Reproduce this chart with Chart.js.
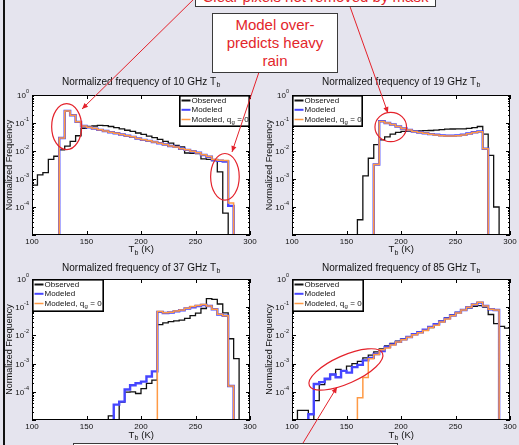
<!DOCTYPE html>
<html>
<head>
<meta charset="utf-8">
<script src="https://cdn.jsdelivr.net/npm/chart.js@4.4.1/dist/chart.umd.min.js"></script>
<style>
html,body{margin:0;padding:0;background:#e5e4ee;overflow:hidden}
#wrap{position:relative;width:519px;height:445px;overflow:hidden;background:#e5e4ee}
canvas.ch{position:absolute}
.box{position:absolute;background:#fff;border:1px solid #3a3a3a;color:#e3262b;font-family:"Liberation Sans",Arial,sans-serif;font-size:15px;line-height:18px;text-align:center;box-sizing:border-box}
</style>
</head>
<body>
<div id="wrap">
<div style="position:absolute;left:3px;top:0;width:2px;height:445px;background:#111"></div>
<canvas id="c10" class="ch" width="260" height="188" style="left:0;top:70px"></canvas>
<canvas id="c19" class="ch" width="259" height="188" style="left:260px;top:70px"></canvas>
<canvas id="c37" class="ch" width="260" height="190" style="left:0;top:255px"></canvas>
<canvas id="c85" class="ch" width="259" height="190" style="left:260px;top:255px"></canvas>
<canvas id="ov" width="519" height="445" style="position:absolute;left:0;top:0"></canvas>
<div class="box" style="left:195px;top:-22px;width:241px;height:29px;padding-top:9px;">Clear pixels not removed by mask</div>
<div class="box" style="left:212px;top:13px;width:126px;height:60px;padding-top:2px;">Model over-<br>predicts heavy<br>rain</div>
<div class="box" style="left:73px;top:443px;width:325px;height:20px;"></div>
</div>
<script>
// ---------------- DATA ----------------
const BIN_W = 5;
const binLeft = [100,105,110,115,120,125,130,135,140,145,150,155,160,165,170,175,180,185,190,195,
                 200,205,210,215,220,225,230,235,240,245,250,255,260,265,270,275,280,285,290,295];
const xTicks = [100,150,200,250,300];
const yDecades = [0,-1,-2,-3,-4];
const channels = ['10','19','37','85'];
const seriesLabels = ['Observed','Modeled','Modeled, q'];

// 10 GHz
const obs10 = [6e-4,1.4e-3,1.7e-3,5e-3,6.5e-3,1.1e-2,1.5e-2,2.2e-2,3.5e-2,6.5e-2,
               7.5e-2,7.8e-2,8.2e-2,8e-2,7.5e-2,6.8e-2,6.2e-2,5.5e-2,5e-2,4.4e-2,
               3.9e-2,3.4e-2,3e-2,2.6e-2,2.2e-2,1.9e-2,1.6e-2,1.4e-2,8.5e-3,8.3e-3,
               8e-3,5.2e-3,5e-3,4.5e-3,1.8e-3,6e-5,0,0,0,0];
const mod10 = [0,0,0,0,0,2.9e-2,0.27,0.19,0.11,0.078,
               0.07,0.063,0.057,0.052,0.047,0.043,0.039,0.035,0.032,0.028,
               0.025,0.023,0.021,0.019,0.017,0.015,0.014,0.012,0.011,0.0098,
               0.0087,0.0072,0.0062,0.0048,0.0045,0.0042,1.1e-4,0,0,0];
const modq10 = [0,0,0,0,0,2.9e-2,0.27,0.19,0.11,0.078,
               0.07,0.063,0.057,0.052,0.047,0.043,0.039,0.035,0.032,0.028,
               0.025,0.023,0.021,0.019,0.017,0.015,0.014,0.012,0.011,0.0098,
               0.0087,0.0073,0.0063,0.005,0.0047,0.0046,1.4e-4,0,0,0];
// 19 GHz
const obs19 = [0,0,0,0,0,0,0,0,0,0,
               0,0,3.5e-5,1.3e-3,5.5e-3,1.7e-2,2.5e-2,3.2e-2,4e-2,4.6e-2,
               5e-2,5.1e-2,5.2e-2,5.2e-2,5.3e-2,5.4e-2,5.6e-2,5.8e-2,6e-2,6.1e-2,
               6.2e-2,6.2e-2,6.4e-2,6.8e-2,7.5e-2,4e-2,7e-3,1e-4,0,0];
const mod19 = [0,0,0,0,0,0,0,0,0,0,
               0,0,0,0,0,3.3e-3,0.115,0.1,0.088,0.075,
               0.064,0.056,0.05,0.046,0.043,0.04,0.038,0.036,0.035,0.035,
               0.036,0.038,0.042,0.047,0.05,0.012,0,0,0,0];
const modq19 = [0,0,0,0,0,0,0,0,0,0,
               0,0,0,0,0,3.3e-3,0.112,0.1,0.088,0.075,
               0.064,0.056,0.05,0.046,0.043,0.04,0.037,0.035,0.034,0.034,
               0.035,0.037,0.041,0.046,0.049,0.012,0,0,0,0];
// 37 GHz
const obs37 = [0,0,0,0,0,0,0,0,0,0,
               0,0,0,0,1.4e-5,0,4.3e-5,9.8e-5,1e-4,8.7e-5,
               1.3e-4,2e-4,2.6e-4,0.024,0.028,0.031,0.033,0.035,0.04,0.05,
               0.062,0.09,0.2,0.19,0.13,0.063,7.6e-3,1.5e-3,0,0];
const mod37 = [0,0,0,0,0,0,0,0,0,0,
               0,0,0,0,0,3.5e-5,4.5e-5,1.2e-4,1.7e-4,2e-4,
               2.3e-4,3.5e-4,5.3e-4,0.068,0.062,0.065,0.072,0.078,0.09,0.1,
               0.11,0.12,0.11,0.085,0.055,0.05,1.6e-4,0,0,0];
const modq37 = [0,0,0,0,0,0,0,0,0,0,
               0,0,0,0,0,0,0,0,0,0,
               0,0,0,0.07,0.063,0.066,0.073,0.08,0.092,0.105,
               0.115,0.125,0.11,0.085,0.056,0.05,1.6e-4,0,0,0];
// 85 GHz
const obs85 = [0,2.2e-5,2.2e-5,0,4.9e-5,1.8e-4,2.7e-4,4.1e-4,6.2e-4,5.4e-4,
               8.1e-4,1e-3,1.2e-3,1.6e-3,2e-3,2.6e-3,3.3e-3,4.2e-3,5.2e-3,6.2e-3,
               7.5e-3,8.9e-3,0.011,0.013,0.016,0.019,0.024,0.032,0.042,0.053,
               0.066,0.082,0.094,0.108,0.114,0.1,0.055,0.026,0.021,0.018];
const mod85 = [0,0,0,1.6e-5,1.9e-4,2.2e-4,2.9e-4,4.1e-4,3.3e-4,5.5e-4,
               4.8e-4,7.5e-4,9e-4,1.3e-3,1.6e-3,2.2e-3,2.8e-3,3.9e-3,4.8e-3,5.9e-3,
               7.2e-3,8.8e-3,0.011,0.013,0.016,0.02,0.025,0.031,0.04,0.051,
               0.064,0.08,0.1,0.125,0.145,0.11,0.085,0.08,0,0];
const modq85 = [0,0,0,0,0,0,0,0,0,0,
               0,0,6.2e-5,3.2e-4,1.5e-3,2.1e-3,3.1e-3,3.6e-3,4.6e-3,5.8e-3,
               7e-3,8.6e-3,0.0105,0.0125,0.015,0.019,0.023,0.03,0.038,0.05,
               0.062,0.08,0.1,0.125,0.15,0.11,0.085,0.08,0,0];

const FLOOR = 1e-7;
const FONT = '"Liberation Sans", Arial, Helvetica, sans-serif';
const RED = '#e4222b';
const C_OBS = '#111111', C_MOD = '#4646ff', C_MODQ = '#ff9a45';

function buildPoints(vals){
  const pts = binLeft.map((x,i)=>({x:x, y: vals[i] > 0 ? vals[i] : FLOOR}));
  pts.push({x: binLeft[binLeft.length-1] + BIN_W, y: FLOOR});
  return pts;
}

function makeDeco(cfg){
  return {
    id: 'deco',
    beforeDatasetsDraw(chart){
      const {ctx, chartArea:a} = chart;
      ctx.save(); ctx.fillStyle = '#fff';
      ctx.fillRect(a.left, a.top, a.right-a.left, a.bottom-a.top);
      ctx.restore();
    },
    afterDatasetsDraw(chart){
      const {ctx, chartArea:a} = chart;
      const xs = chart.scales.x, ys = chart.scales.y;
      ctx.save();
      ctx.strokeStyle = '#000'; ctx.lineWidth = 1;
      ctx.strokeRect(a.left+0.5, a.top+0.5, a.right-a.left-1, a.bottom-a.top-1);
      ctx.beginPath();
      xTicks.forEach(v=>{
        const px = Math.round(xs.getPixelForValue(v)) + 0.5;
        ctx.moveTo(px, a.bottom); ctx.lineTo(px, a.bottom-4);
        ctx.moveTo(px, a.top); ctx.lineTo(px, a.top+4);
      });
      for (let e=-5; e<=0; e++){
        for (let m=1; m<=9; m++){
          if (e===0 && m>1) break;
          const py = Math.round(ys.getPixelForValue(m*Math.pow(10,e))) + 0.5;
          const L = m===1 ? 4 : 2;
          ctx.moveTo(a.left, py); ctx.lineTo(a.left+L, py);
          ctx.moveTo(a.right, py); ctx.lineTo(a.right-L, py);
        }
      }
      ctx.stroke();
      ctx.fillStyle = '#111';
      ctx.textBaseline = 'alphabetic'; ctx.textAlign = 'left';
      yDecades.forEach(e=>{
        const py = ys.getPixelForValue(Math.pow(10,e));
        const s = String(e);
        ctx.font = '5.5px ' + FONT; const ws = ctx.measureText(s).width;
        ctx.font = '8px ' + FONT; const wb = ctx.measureText('10').width;
        const right = a.left - 3;
        ctx.fillText('10', right - ws - wb, py + 3);
        ctx.font = '5.5px ' + FONT;
        ctx.fillText(s, right - ws, py - 2);
      });
      const cx = (a.left + a.right)/2;
      ctx.font = '10px ' + FONT;
      const main = 'Normalized frequency of ' + cfg.ch + ' GHz T';
      const wm = ctx.measureText(main).width;
      ctx.font = '7px ' + FONT; const wsub = ctx.measureText('b').width;
      let sx = cx - (wm + wsub)/2;
      ctx.font = '10px ' + FONT; ctx.fillText(main, sx, cfg.titleY);
      ctx.font = '7px ' + FONT; ctx.fillText('b', sx + wm + 0.5, cfg.titleY + 2.5);
      ctx.font = '9.5px ' + FONT;
      const wT = ctx.measureText('T').width, wK = ctx.measureText(' (K)').width;
      ctx.font = '7px ' + FONT; const wb2 = ctx.measureText('b').width;
      sx = cx - (wT + wb2 + wK)/2;
      ctx.font = '9.5px ' + FONT; ctx.fillText('T', sx, cfg.xTitleY);
      ctx.font = '7px ' + FONT; ctx.fillText('b', sx + wT + 0.3, cfg.xTitleY + 2.5);
      ctx.font = '9.5px ' + FONT; ctx.fillText(' (K)', sx + wT + wb2 + 0.5, cfg.xTitleY);
      ctx.save();
      ctx.translate(cfg.yTitleX, (a.top + a.bottom)/2);
      ctx.rotate(-Math.PI/2);
      ctx.font = '9px ' + FONT; ctx.textAlign = 'center'; ctx.textBaseline = 'middle';
      ctx.fillText('Normalized Frequency', 0, 0);
      ctx.restore();
      const lw = cfg.legW, lh = cfg.legH;
      const lx = cfg.legend === 'tr' ? a.right - lw : a.left;
      const ly = a.top;
      ctx.fillStyle = '#fff'; ctx.fillRect(lx, ly, lw, lh);
      ctx.strokeStyle = '#000'; ctx.lineWidth = 1.6;
      ctx.strokeRect(lx+0.8, ly+0.8, lw-1.6, lh-1.6);
      const rows = [ly+5.5, ly+14.8, ly+24.5];
      chart.data.datasets.forEach((d,i)=>{
        const ry = rows[i];
        ctx.strokeStyle = d.borderColor; ctx.lineWidth = i===2 ? 1.5 : 2;
        ctx.beginPath(); ctx.moveTo(lx+2.5, ry); ctx.lineTo(lx+11.5, ry); ctx.stroke();
        ctx.fillStyle = '#111'; ctx.textBaseline = 'middle'; ctx.textAlign = 'left';
        ctx.font = '8px ' + FONT;
        const tx = lx + 12.5;
        ctx.fillText(d.label, tx, ry);
        if (i === 2){
          const w0 = ctx.measureText(d.label).width;
          ctx.font = '6px ' + FONT; ctx.fillText('g', tx + w0 + 0.3, ry + 2.5);
          const wg = ctx.measureText('g').width;
          ctx.font = '8px ' + FONT; ctx.fillText(' = 0', tx + w0 + wg + 0.6, ry);
        }
      });
      ctx.restore();
    }
  };
}

function makeChart(id, ch, obs, mod, modq, cfg){
  const el = document.getElementById(id);
  const chart = new Chart(el, {
    type: 'line',
    data: { datasets: [
      {label: seriesLabels[0], data: buildPoints(obs), borderColor: C_OBS, borderWidth: 1.3, stepped: true, order: 2, pointRadius: 0, fill: false},
      {label: seriesLabels[1], data: buildPoints(mod), borderColor: C_MOD, borderWidth: 2.4, stepped: true, order: 1, pointRadius: 0, fill: false},
      {label: seriesLabels[2], data: buildPoints(modq), borderColor: C_MODQ, borderWidth: 1.5, stepped: true, order: 0, pointRadius: 0, fill: false}
    ]},
    options: {
      responsive: false, animation: false, devicePixelRatio: 1,
      layout: { padding: { left: 0, right: cfg.padR, top: cfg.padT, bottom: 0 } },
      plugins: { legend: {display: false}, tooltip: {enabled: false}, title: {display: false} },
      elements: { point: {radius: 0}, line: {tension: 0} },
      scales: {
        x: { type: 'linear', min: 100, max: 300,
             ticks: { stepSize: 50, font: {size: 8, family: FONT}, color: '#111', padding: 1.5, maxRotation: 0, autoSkip: false },
             grid: { display: false, drawTicks: false }, border: { display: false },
             afterFit(s){ s.height = cfg.xH; } },
        y: { type: 'logarithmic', min: 1e-5, max: 1,
             ticks: { display: false },
             grid: { display: false, drawTicks: false }, border: { display: false },
             afterFit(s){ s.width = 32; } }
      }
    },
    plugins: [makeDeco(Object.assign({ch: ch}, cfg))]
  });
  return {chart, el};
}

const cfgTop = {padT: 25, padR: 10, xH: 23, titleY: 14.5, xTitleY: 182, yTitleX: 10, legH: 32};
const cfgBot = {padT: 24, padR: 10, xH: 25, titleY: 15.5, xTitleY: 182.5, yTitleX: 10, legH: 33};

const P10 = makeChart('c10', channels[0], obs10, mod10, modq10, Object.assign({}, cfgTop, {legend: 'tr', legW: 71}));
const P19 = makeChart('c19', channels[1], obs19, mod19, modq19, Object.assign({}, cfgTop, {padR: 9, yTitleX: 9.5, legend: 'tl', legW: 71}));
const P37 = makeChart('c37', channels[2], obs37, mod37, modq37, Object.assign({}, cfgBot, {legend: 'tl', legW: 72}));
const P85 = makeChart('c85', channels[3], obs85, mod85, modq85, Object.assign({}, cfgBot, {padR: 9, yTitleX: 9.5, legend: 'tl', legW: 72}));

// ---------------- ANNOTATIONS ----------------
function toPage(P, xv, yv){
  return [P.el.offsetLeft + P.chart.scales.x.getPixelForValue(xv),
          P.el.offsetTop + P.chart.scales.y.getPixelForValue(yv)];
}
const ellipses = [
  {P: P10, x: 131.8, y: 0.074, rx: 15, ry: 23, rot: 0},
  {P: P10, x: 277, y: 1.2e-3, rx: 14.3, ry: 23.3, rot: 0},
  {P: P19, x: 190.6, y: 0.072, rx: 15.8, ry: 14.7, rot: 0},
  {P: P85, x: 149.5, y: 6.2e-4, rx: 40, ry: 14, rot: -24}
];
const arrows = [
  {from: [197, -4], P: P10, x: 145.9, y: 0.316},
  {from: [259, 72], P: P10, x: 283.5, y: 9.2e-3},
  {from: [348, 1], P: P19, x: 188, y: 0.228},
  {from: [300, 448], P: P85, x: 141.3, y: 1.48e-4}
];
const oc = document.getElementById('ov').getContext('2d');
oc.strokeStyle = RED; oc.fillStyle = RED; oc.lineWidth = 1.2;
ellipses.forEach(e=>{
  const [cx, cy] = toPage(e.P, e.x, e.y);
  oc.beginPath();
  oc.ellipse(cx, cy, e.rx, e.ry, e.rot*Math.PI/180, 0, Math.PI*2);
  oc.stroke();
});
arrows.forEach(a=>{
  const [x1, y1] = a.from;
  const [x2, y2] = toPage(a.P, a.x, a.y);
  oc.lineWidth = 1;
  oc.beginPath(); oc.moveTo(x1, y1); oc.lineTo(x2, y2); oc.stroke();
  const ang = Math.atan2(y2-y1, x2-x1), L = 6, W = 2.6;
  oc.beginPath();
  oc.moveTo(x2, y2);
  oc.lineTo(x2 - L*Math.cos(ang) + W*Math.sin(ang), y2 - L*Math.sin(ang) - W*Math.cos(ang));
  oc.lineTo(x2 - L*Math.cos(ang) - W*Math.sin(ang), y2 - L*Math.sin(ang) + W*Math.cos(ang));
  oc.closePath(); oc.fill();
});
</script>
</body>
</html>
